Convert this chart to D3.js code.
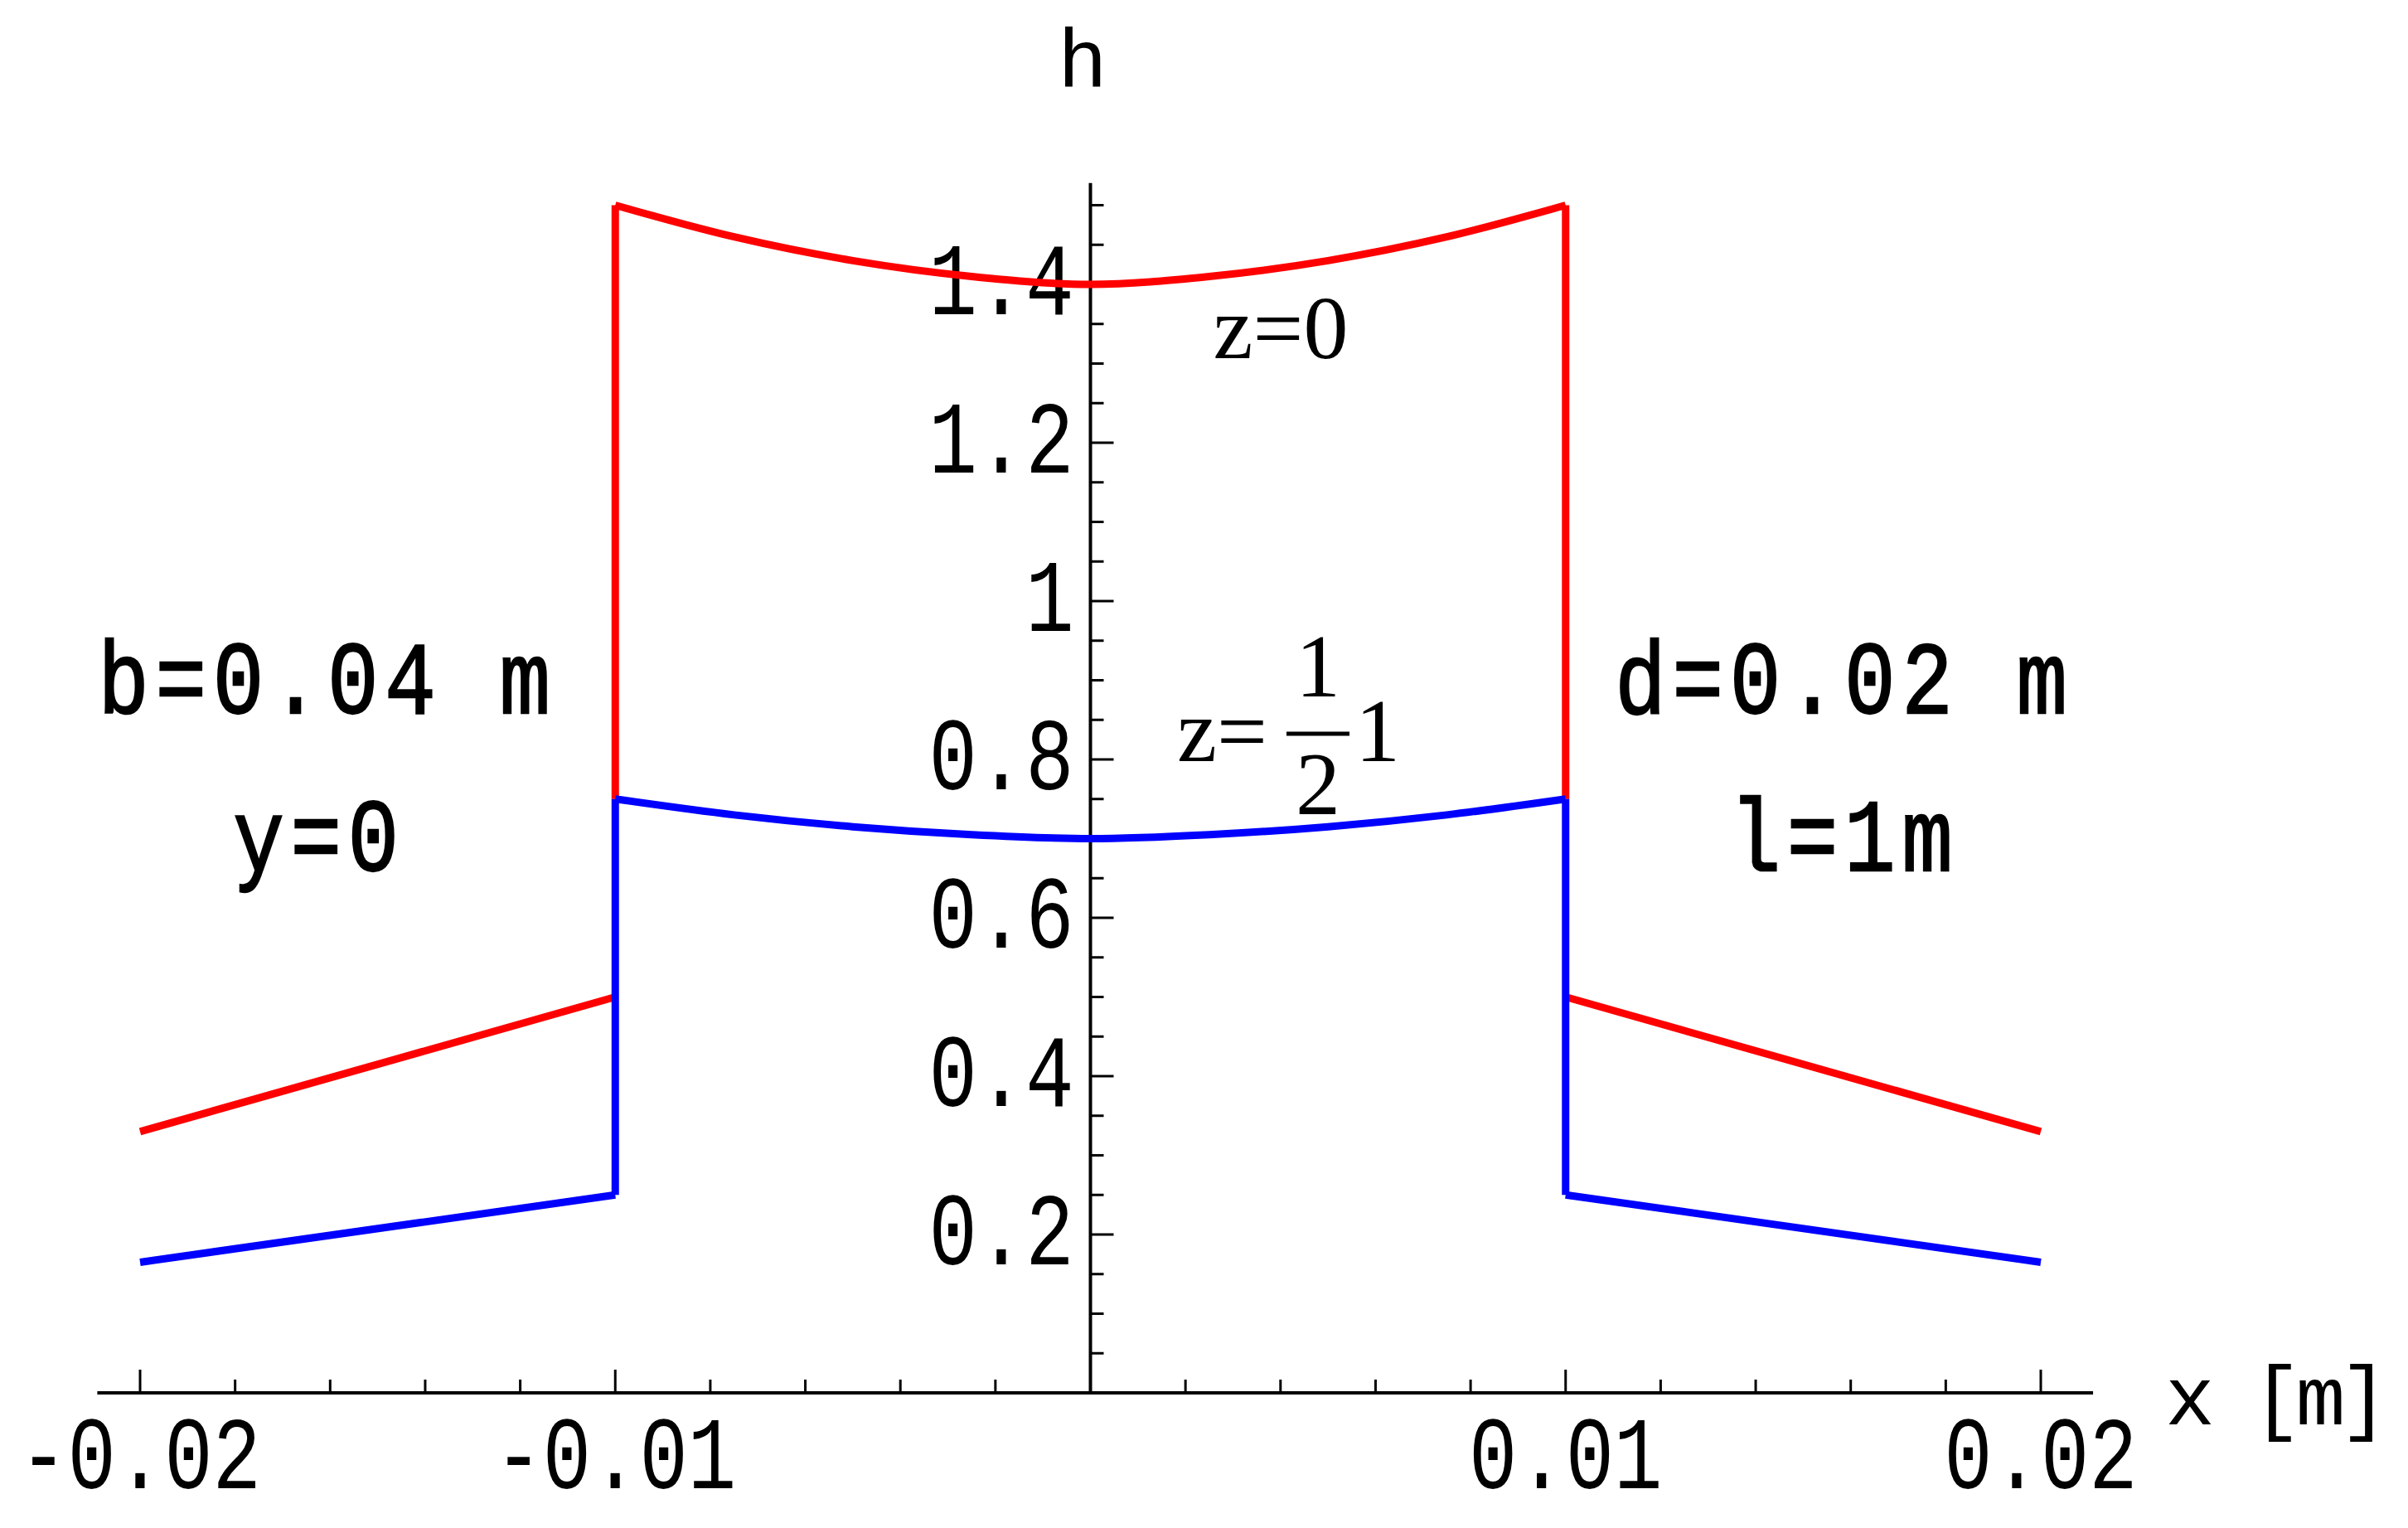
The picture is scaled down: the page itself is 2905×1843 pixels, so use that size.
<!DOCTYPE html>
<html><head><meta charset="utf-8">
<script src="https://cdn.jsdelivr.net/npm/d3@7"></script>
<style>body{margin:0;background:#fff}</style>
</head><body>
<svg id="c" width="2905" height="1843"></svg>
<script>
// profile points (x in m, h)
const innerX = [-0.01, -0.0075, -0.005, -0.0025, 0, 0.0025, 0.005, 0.0075, 0.01]
const redInner = [1.5, 1.46, 1.43, 1.41, 1.4, 1.41, 1.43, 1.46, 1.5]
const blueInner = [0.75, 0.73, 0.715, 0.705, 0.7, 0.705, 0.715, 0.73, 0.75]
const outerLeftX = [-0.02, -0.01]
const redLeft = [0.33, 0.5]
const blueLeft = [0.165, 0.25]
const outerRightX = [0.01, 0.02]
const redRight = [0.5, 0.33]
const blueRight = [0.25, 0.165]
const xTicks = [-0.02, -0.01, 0.01, 0.02]
const yTicks = [0.2, 0.4, 0.6, 0.8, 1, 1.2, 1.4]

const svg = d3.select('#c')
const x = d3.scaleLinear().domain([-0.02, 0.02]).range([169, 2462])
const y = d3.scaleLinear().domain([0, 1.4]).range([1680, 343])
const mono = 'Liberation Mono, DejaVu Sans Mono, monospace'

// axes
svg.append('line').attr('x1', x(-0.0209)).attr('x2', x(0.0211)).attr('y1', y(0)).attr('y2', y(0))
  .attr('stroke', '#000').attr('stroke-width', 4)
svg.append('line').attr('x1', x(0)).attr('x2', x(0)).attr('y1', y(0)).attr('y2', y(1.528))
  .attr('stroke', '#000').attr('stroke-width', 4)

d3.range(-0.02, 0.02001, 0.002).forEach(v => {
  const major = Math.abs(Math.round(v * 1000) % 10) === 0
  svg.append('line').attr('x1', x(v)).attr('x2', x(v)).attr('y1', y(0)).attr('y2', y(0) - (major ? 28 : 16))
    .attr('stroke', '#000').attr('stroke-width', 3)
})
d3.range(0.05, 1.5001, 0.05).forEach(v => {
  const major = Math.abs(Math.round(v * 100) % 20) === 0
  svg.append('line').attr('x1', x(0)).attr('x2', x(0) + (major ? 28 : 16)).attr('y1', y(v)).attr('y2', y(v))
    .attr('stroke', '#000').attr('stroke-width', 3)
})

svg.selectAll('.xt').data(xTicks).enter().append('text')
  .attr('x', d => x(d)).attr('y', 1795).attr('text-anchor', 'middle')
  .attr('font-family', mono).attr('font-size', 108).attr('transform-origin', d => `${x(d)}px 1795px`)
  .attr('transform', 'scale(0.9,1.15)').text(d => d)
svg.selectAll('.yt').data(yTicks).enter().append('text')
  .attr('x', x(0) - 20).attr('y', d => y(d) + 36).attr('text-anchor', 'end')
  .attr('font-family', mono).attr('font-size', 108).attr('transform-origin', d => `${x(0) - 20}px ${y(d) + 36}px`)
  .attr('transform', 'scale(0.9,1.15)').text(d => d)

svg.append('text').attr('x', 1306).attr('y', 105).attr('text-anchor', 'middle')
  .attr('font-family', mono).attr('font-size', 100).text('h')
svg.append('text').attr('x', 2612).attr('y', 1718).attr('textLength', 270)
  .attr('font-family', mono).attr('font-size', 100).text('x [m]')

// curves
const line = d3.line().x(d => x(d[0])).y(d => y(d[1]))
function draw(xs, hs, col) {
  svg.append('path').datum(xs.map((v, i) => [v, hs[i]])).attr('d', line.curve(d3.curveMonotoneX))
    .attr('fill', 'none').attr('stroke', col).attr('stroke-width', 9)
}
draw(outerLeftX, redLeft, 'red')
draw(outerRightX, redRight, 'red')
draw(innerX, redInner, 'red')
draw([-0.01, -0.01], [redInner[0], blueInner[0]], 'red')
draw([0.01, 0.01], [redInner[8], blueInner[8]], 'red')
draw(outerLeftX, blueLeft, 'blue')
draw(outerRightX, blueRight, 'blue')
draw(innerX, blueInner, 'blue')
draw([-0.01, -0.01], [blueInner[0], blueLeft[1]], 'blue')
draw([0.01, 0.01], [blueInner[8], blueRight[0]], 'blue')

// annotations
const ann = [['b=0.04 m', 395, 860], ['y=0', 385, 1050], ['d=0.02 m', 2225, 860], ['l=1m', 2225, 1050]]
ann.forEach(a => svg.append('text').attr('x', a[1]).attr('y', a[2]).attr('text-anchor', 'middle')
  .attr('font-family', mono).attr('font-size', 108).attr('letter-spacing', 8)
  .attr('stroke', '#000').attr('stroke-width', 2)
  .attr('transform-origin', `${a[1]}px ${a[2]}px`).attr('transform', 'scale(0.95,1.15)').text(a[0]))

const serif = 'Liberation Serif, DejaVu Serif, serif'
svg.append('text').attr('x', 1545).attr('y', 432).attr('text-anchor', 'middle')
  .attr('font-family', serif).attr('font-size', 108).text('z=0')
svg.append('text').attr('x', 1420).attr('y', 918).attr('font-family', serif).attr('font-size', 108).text('z=')
svg.append('text').attr('x', 1590).attr('y', 840).attr('text-anchor', 'middle').attr('font-family', serif).attr('font-size', 108).text('1')
svg.append('line').attr('x1', 1552).attr('x2', 1628).attr('y1', 885).attr('y2', 885).attr('stroke', '#000').attr('stroke-width', 5)
svg.append('text').attr('x', 1590).attr('y', 982).attr('text-anchor', 'middle').attr('font-family', serif).attr('font-size', 108).text('2')
svg.append('text').attr('x', 1635).attr('y', 918).attr('font-family', serif).attr('font-size', 108).text('1')
</script>
</body></html>
